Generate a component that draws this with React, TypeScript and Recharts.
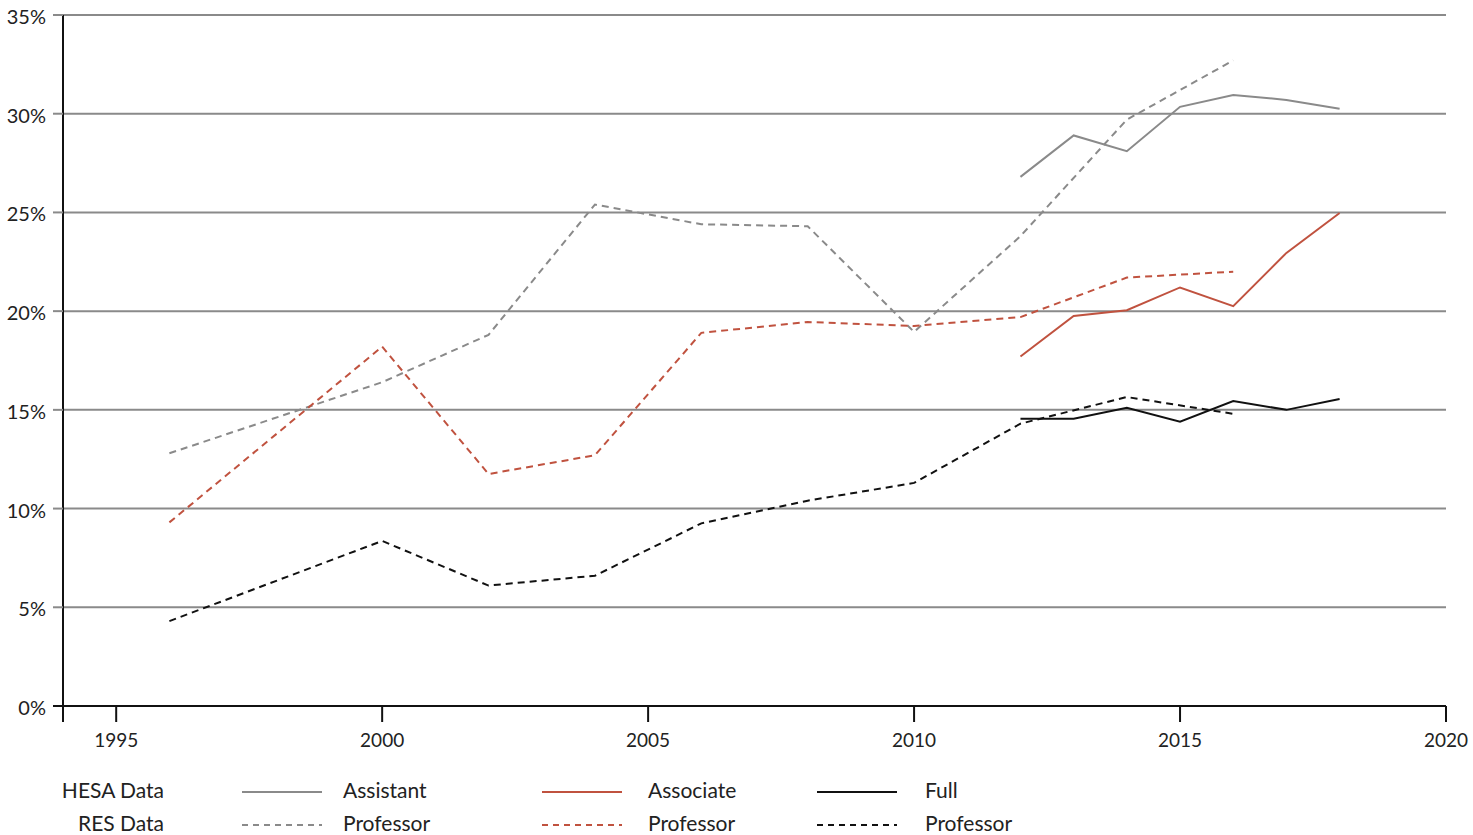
import React from 'react';
import { LineChart, Line, XAxis, YAxis, CartesianGrid } from 'recharts';

// RES data (biennial)
const resYears = [1996, 1998, 2000, 2002, 2004, 2006, 2008, 2010, 2012, 2014, 2016];
const resAssistant = [12.8, null, 16.4, 18.8, 25.4, 24.4, 24.3, 18.95, 23.8, 29.7, 32.7];
const resAssociate = [9.3, null, 18.2, 11.75, 12.7, 18.9, 19.45, 19.25, 19.7, 21.7, 22.0];
const resFull = [4.3, null, 8.36, 6.1, 6.6, 9.25, 10.4, 11.3, 14.3, 15.65, 14.8];

// HESA data (annual)
const hesaYears = [2012, 2013, 2014, 2015, 2016, 2017, 2018];
const hesaAssistant = [26.8, 28.9, 28.1, 30.35, 30.95, 30.7, 30.25];
const hesaAssociate = [17.7, 19.75, 20.05, 21.2, 20.25, 22.95, 24.97];
const hesaFull = [14.55, 14.55, 15.1, 14.4, 15.45, 15.0, 15.55];

const xTicks = [1994, 1995, 2000, 2005, 2010, 2015, 2020];
const yTicks = [0, 5, 10, 15, 20, 25, 30, 35];

const GRAY = '#8a8a8a';
const RED = '#c0523f';
const BLACK = '#111111';
const FONT = 'Lato, "Open Sans", sans-serif';

const resData = resYears
  .map((year, i) => ({ year, assistant: resAssistant[i], associate: resAssociate[i], full: resFull[i] }))
  .filter((d) => d.assistant !== null);
const hesaData = hesaYears.map((year, i) => ({
  year,
  assistant: hesaAssistant[i],
  associate: hesaAssociate[i],
  full: hesaFull[i],
}));

const XTick = (props: any) => {
  const { x, y, payload } = props;
  if (payload.value === 1994) return null;
  return (
    <text x={x} y={y} dy={14} textAnchor="middle" fontSize={19} fill="#222" fontFamily={FONT}>
      {payload.value}
    </text>
  );
};

const YTick = (props: any) => {
  const { x, y, payload } = props;
  const lineColor = payload.value === 0 ? BLACK : GRAY;
  return (
    <g>
      <line x1={x + 7} x2={x + 17} y1={y} y2={y} stroke={lineColor} strokeWidth={2} />
      <text x={x} y={y} dy={9} textAnchor="end" fontSize={20} fill="#222" fontFamily={FONT}>
        {payload.value}%
      </text>
    </g>
  );
};

const legendItems = [
  { label: 'Assistant', color: GRAY, lx: 242, tx: 343 },
  { label: 'Associate', color: RED, lx: 542, tx: 648 },
  { label: 'Full', color: BLACK, lx: 817, tx: 925 },
];

const LegendBlock = () => (
  <svg
    width={1473}
    height={835}
    style={{ position: 'absolute', left: 0, top: 0, pointerEvents: 'none' }}
  >
    <g fontFamily={FONT} fontSize={21} fill="#222">
      <text x={164} y={798} textAnchor="end">HESA Data</text>
      <text x={164} y={831} textAnchor="end">RES Data</text>
      {legendItems.map((it) => (
        <g key={it.label}>
          <line x1={it.lx} x2={it.lx + 80} y1={792} y2={792} stroke={it.color} strokeWidth={2} />
          <line
            x1={it.lx}
            x2={it.lx + 80}
            y1={825}
            y2={825}
            stroke={it.color}
            strokeWidth={2}
            strokeDasharray="6 5"
          />
          <text x={it.tx} y={798}>{it.label}</text>
          <text x={it.tx} y={831}>Professor</text>
        </g>
      ))}
    </g>
  </svg>
);

export default function App() {
  return (
    <div style={{ position: 'absolute', left: 0, top: 0, width: 1473, height: 835, background: '#fff' }}>
      <LineChart width={1473} height={835} margin={{ top: 15, right: 27, bottom: 89, left: 0 }}>
        <CartesianGrid horizontal vertical={false} stroke={GRAY} strokeWidth={2} strokeDasharray="" />
        <XAxis
          dataKey="year"
          type="number"
          domain={[1994, 2020]}
          ticks={xTicks}
          allowDuplicatedCategory={false}
          height={40}
          axisLine={{ stroke: BLACK, strokeWidth: 2 }}
          tickLine={{ stroke: BLACK, strokeWidth: 2 }}
          tickSize={16}
          tickMargin={11}
          tick={<XTick />}
          interval={0}
        />
        <YAxis
          type="number"
          domain={[0, 35]}
          ticks={yTicks}
          width={63}
          axisLine={{ stroke: BLACK, strokeWidth: 2 }}
          tickLine={false}
          tickSize={10}
          tickMargin={7}
          tick={<YTick />}
          interval={0}
        />
        <Line data={resData} dataKey="assistant" stroke={GRAY} strokeWidth={2} strokeDasharray="7 5" dot={false} isAnimationActive={false} connectNulls />
        <Line data={resData} dataKey="associate" stroke={RED} strokeWidth={2} strokeDasharray="7 5" dot={false} isAnimationActive={false} connectNulls />
        <Line data={resData} dataKey="full" stroke={BLACK} strokeWidth={2} strokeDasharray="7 5" dot={false} isAnimationActive={false} connectNulls />
        <Line data={hesaData} dataKey="assistant" stroke={GRAY} strokeWidth={2} dot={false} isAnimationActive={false} />
        <Line data={hesaData} dataKey="associate" stroke={RED} strokeWidth={2} dot={false} isAnimationActive={false} />
        <Line data={hesaData} dataKey="full" stroke={BLACK} strokeWidth={2} dot={false} isAnimationActive={false} />
      </LineChart>
      <LegendBlock />
    </div>
  );
}
